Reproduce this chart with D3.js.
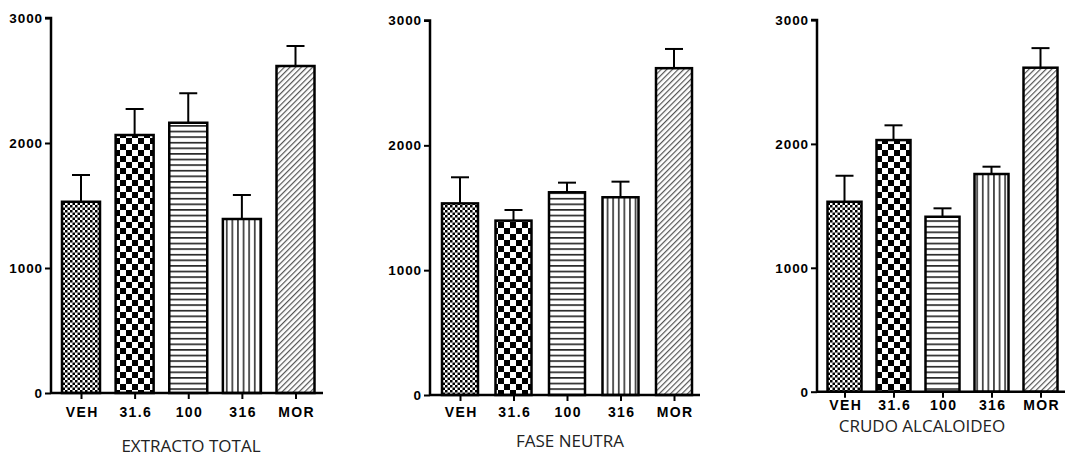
<!DOCTYPE html>
<html><head><meta charset="utf-8">
<script src="https://cdn.jsdelivr.net/npm/d3@7"></script>
<style>
html,body{margin:0;padding:0;background:#fff;}
svg{display:block;}
.tick text{font-family:"Liberation Sans",Arial,sans-serif;font-weight:bold;}
</style></head><body>
<svg id="chart" width="1065" height="457"></svg>
<script>
const categories = ["VEH", "31.6", "100", "316", "MOR"];
const yTicks = [0, 1000, 2000, 3000];
const panelTitles = ["EXTRACTO TOTAL", "FASE NEUTRA", "CRUDO ALCALOIDEO"];
const meanTotal   = [1530, 2064, 2162, 1392, 2616];
const errTotal    = [214, 208, 236, 192, 160];
const meanNeutra  = [1535, 1397, 1624, 1584, 2618];
const errNeutra   = [209, 85, 77, 125, 154];
const meanCrudo   = [1533, 2031, 1412, 1757, 2615];
const errCrudo    = [210, 119, 68, 59, 158];
const patterns = ["fineCheck", "bigCheck", "hLines", "vLines", "diag"];

const svg = d3.select("#chart");
const defs = svg.append("defs");

// fine checkerboard
let p = defs.append("pattern").attr("id","fineCheck").attr("patternUnits","userSpaceOnUse").attr("width",5).attr("height",5);
p.append("rect").attr("width",5).attr("height",5).attr("fill","#fff");
p.append("rect").attr("width",2.5).attr("height",2.5).attr("fill","#000");
p.append("rect").attr("x",2.5).attr("y",2.5).attr("width",2.5).attr("height",2.5).attr("fill","#000");
// big checkerboard
p = defs.append("pattern").attr("id","bigCheck").attr("patternUnits","userSpaceOnUse").attr("width",12).attr("height",12);
p.append("rect").attr("width",12).attr("height",12).attr("fill","#fff");
p.append("rect").attr("width",6).attr("height",6).attr("fill","#000");
p.append("rect").attr("x",6).attr("y",6).attr("width",6).attr("height",6).attr("fill","#000");
// horizontal lines
p = defs.append("pattern").attr("id","hLines").attr("patternUnits","userSpaceOnUse").attr("width",6).attr("height",5.6);
p.append("rect").attr("width",6).attr("height",5.6).attr("fill","#fff");
p.append("rect").attr("y",2).attr("width",6).attr("height",1.4).attr("fill","#000");
// vertical lines
p = defs.append("pattern").attr("id","vLines").attr("patternUnits","userSpaceOnUse").attr("width",5.6).attr("height",6);
p.append("rect").attr("width",5.6).attr("height",6).attr("fill","#fff");
p.append("rect").attr("x",2).attr("width",1.5).attr("height",6).attr("fill","#222");
// diagonal
p = defs.append("pattern").attr("id","diag").attr("patternUnits","userSpaceOnUse").attr("width",4).attr("height",4)
  .attr("patternTransform","rotate(45)");
p.append("rect").attr("width",4).attr("height",4).attr("fill","#fff");
p.append("rect").attr("width",1.2).attr("height",4).attr("fill","#555");

const panels = [
  {title: panelTitles[0], mean: meanTotal, err: errTotal, ax: 51, axEnd: 323, y0: 393, y1: 18, c0: 81, c1: 295.5, bw: 38, labY: 417, titleX: 191, titleY: 452},
  {title: panelTitles[1], mean: meanNeutra, err: errNeutra, ax: 430, axEnd: 700, y0: 395, y1: 20.5, c0: 460, c1: 674, bw: 36, labY: 417, titleX: 570, titleY: 447},
  {title: panelTitles[2], mean: meanCrudo, err: errCrudo, ax: 817, axEnd: 1065, y0: 391.7, y1: 20, c0: 844.5, c1: 1040.5, bw: 34, labY: 410, titleX: 922, titleY: 432}
];

panels.forEach(P => {
  const g = svg.append("g");
  const y = d3.scaleLinear().domain([0, 3000]).range([P.y0, P.y1]);
  const x = d3.scalePoint().domain(categories).range([P.c0, P.c1]);

  // error bars (behind bars)
  categories.forEach((c, i) => {
    const cx = x(c);
    g.append("line").attr("x1",cx).attr("x2",cx).attr("y1",y(P.mean[i])).attr("y2",y(P.mean[i]+P.err[i]))
      .attr("stroke","#000").attr("stroke-width",2);
    g.append("line").attr("x1",cx-9).attr("x2",cx+9).attr("y1",y(P.mean[i]+P.err[i])).attr("y2",y(P.mean[i]+P.err[i]))
      .attr("stroke","#000").attr("stroke-width",2);
  });

  // bars
  g.selectAll("rect.bar").data(categories).enter().append("rect")
    .attr("class","bar")
    .attr("x", c => x(c) - P.bw/2)
    .attr("width", P.bw)
    .attr("y", (c,i) => y(P.mean[i]))
    .attr("height", (c,i) => y(0) - y(P.mean[i]))
    .attr("fill", (c,i) => `url(#${patterns[i]})`)
    .attr("stroke","#000").attr("stroke-width",2.5);

  // y axis
  const yAx = g.append("g").attr("transform",`translate(${P.ax},0)`)
    .call(d3.axisLeft(y).tickValues(yTicks).tickSize(6).tickPadding(2).tickFormat(d3.format("d")));
  yAx.select(".domain").attr("stroke-width",2.5).attr("d",`M-6,${P.y1}H0V${P.y0}`);
  yAx.selectAll(".tick line").attr("stroke-width",2);
  yAx.selectAll(".tick text").attr("font-size",13.5).attr("letter-spacing","0.9px").attr("fill","#000");

  // x axis
  const xAx = g.append("g").attr("transform",`translate(0,${P.y0})`)
    .call(d3.axisBottom(x).tickSize(6).tickPadding(6));
  xAx.select(".domain").attr("stroke-width",2.5).attr("d",`M${P.ax},0H${P.axEnd}`);
  xAx.selectAll(".tick line").attr("stroke-width",2);
  xAx.selectAll(".tick text").attr("font-size",14).attr("letter-spacing","1.4px").attr("fill","#000")
    .attr("y", null).attr("dy",null).attr("transform",`translate(0.7,${P.labY - P.y0})`);

  // title
  svg.append("text").attr("x",P.titleX).attr("y",P.titleY).attr("text-anchor","middle")
    .attr("font-family","'Open Sans','Noto Sans',sans-serif").attr("font-size",17).attr("fill","#222")
    .text(P.title);
});
</script>
</body></html>
